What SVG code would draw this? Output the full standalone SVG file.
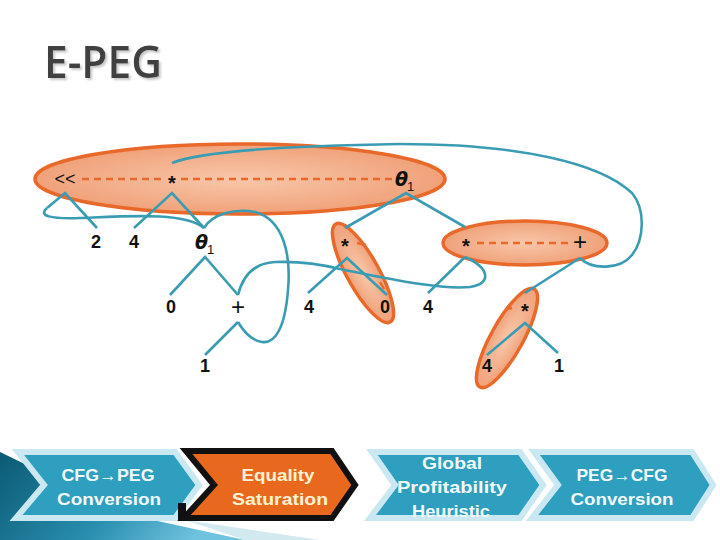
<svg xmlns="http://www.w3.org/2000/svg" width="720" height="540" viewBox="0 0 720 540">
<defs>
<radialGradient id="eg" cx="0.5" cy="0.5" r="0.5">
<stop offset="0" stop-color="#f8c7aa"/>
<stop offset="1" stop-color="#f0a27a"/>
</radialGradient>
<linearGradient id="bgd" x1="0" y1="0" x2="1" y2="0.3">
<stop offset="0" stop-color="#0b5a74"/>
<stop offset="0.6" stop-color="#2a8fb0"/>
<stop offset="1" stop-color="#6fc3df"/>
</linearGradient>
<filter id="tsh" x="-10%" y="-20%" width="130%" height="150%">
<feDropShadow dx="2" dy="2" stdDeviation="0.8" flood-color="#c8c8c8" flood-opacity="1"/>
</filter>
<clipPath id="c3"><polygon points="372,452 520,452 543,485 520,518 370,518 395,485"/></clipPath>
<style>
.eq{fill:url(#eg);stroke:#e8692a;stroke-width:3.5}
.dash{stroke:#e8692a;stroke-width:2.5;stroke-dasharray:7 5;fill:none}
.lbl{font-family:"Liberation Sans",Arial,sans-serif;font-weight:bold;font-size:18px;fill:#111;text-anchor:middle}
.ast{font-family:"Liberation Sans",Arial,sans-serif;font-weight:bold;font-size:20px;fill:#111;text-anchor:middle}
.pl{font-family:"Liberation Sans",Arial,sans-serif;font-size:24px;fill:#111;text-anchor:middle}
.th{font-family:"DejaVu Sans",sans-serif;font-style:italic;font-weight:bold;font-size:19px;fill:#111}
.sub{font-family:"Liberation Sans",Arial,sans-serif;font-size:13px;fill:#111}
.ed{fill:none;stroke:#3a9cb3;stroke-width:2.6;stroke-linejoin:miter}
.chv{fill:#2e9fbe;stroke:#c9e8f1;stroke-width:6}
.ct{font-family:"Liberation Sans",Arial,sans-serif;font-weight:bold;font-size:17px;fill:#f2fafc;text-anchor:middle}
</style>
</defs>
<rect width="720" height="540" fill="#ffffff"/>
<polygon points="0,452 130,515 245,540 0,540" fill="url(#bgd)"/>
<polygon points="185,520 320,540 245,540" fill="#d3e9f0"/>
<text x="44" y="78" font-family="'Open Sans','Liberation Sans',sans-serif" font-weight="600" font-size="45" fill="#404040" textLength="118" lengthAdjust="spacingAndGlyphs" filter="url(#tsh)">E-PEG</text>
<g id="eclass1"><ellipse class="eq" cx="240" cy="179" rx="205" ry="35"/><line class="dash" x1="82" y1="179" x2="165" y2="179"/><line class="dash" x1="181" y1="179" x2="392" y2="179"/></g>
<g id="eclass2"><ellipse class="eq" cx="363" cy="273" rx="56" ry="16" transform="rotate(61 363 273)"/><line x1="357" y1="243" x2="366" y2="245" stroke="#e8692a" stroke-width="2.5"/><line x1="380" y1="282" x2="384" y2="289" stroke="#e8692a" stroke-width="2.5"/></g>
<g id="eclass3"><ellipse class="eq" cx="525" cy="243" rx="82" ry="22"/><line class="dash" x1="477" y1="243" x2="570" y2="243"/></g>
<g id="eclass4"><ellipse class="eq" cx="507" cy="338" rx="56" ry="16" transform="rotate(-61 507 338)"/><line x1="507" y1="309" x2="512" y2="308" stroke="#e8692a" stroke-width="2.5"/></g>
<g id="connectors">
<polyline class="ed" points="97,228 65,193 47,208"/>
<path class="ed" d="M47,208 C38,216 50,219 80,218 C130,216 185,212 204,228"/>
<polyline class="ed" points="134,228 172,193 204,228"/>
<path class="ed" d="M172,163 C200,152 270,146 400,144 C520,144 600,163 632,193 C646,210 644,240 632,255 C620,270 592,270 580,258"/>
<polyline class="ed" points="345,228 406,193 465,227"/>
<polyline class="ed" points="170,295 205,257 238,295"/>
<path class="ed" d="M238,295 C243,275 255,263 275,262 C300,261 320,264 340,269 C390,279 440,290 470,287 C492,284 490,268 465,257"/>
<polyline class="ed" points="428,293 465,257"/>
<path class="ed" d="M204,228 C212,214 235,208 255,212 C285,220 291,258 288,290 C285,328 275,344 262,342 C250,340 243,330 238,322"/>
<polyline class="ed" points="205,355 238,322"/>
<polyline class="ed" points="308,293 347,258 387,295"/>
<polyline class="ed" points="580,258 525,293"/>
<polyline class="ed" points="487,355 525,323 558,353"/>
</g>
<g id="n-shl"><text x="65" y="185" font-family="'Liberation Sans',Arial,sans-serif" font-size="18" fill="#111" text-anchor="middle">&lt;&lt;</text></g>
<g id="n-mul1"><text class="ast" x="172" y="190">*</text></g>
<g id="n-theta1"><text class="th" x="395" y="186">θ</text><text class="sub" x="407" y="191">1</text></g>
<g id="n-2"><text class="lbl" x="96" y="248">2</text></g>
<g id="n-4a"><text class="lbl" x="134" y="248">4</text></g>
<g id="n-theta2"><text class="th" x="195" y="249">θ</text><text class="sub" x="207" y="254">1</text></g>
<g id="n-mul2"><text class="ast" x="345" y="253">*</text></g>
<g id="n-mul3"><text class="ast" x="466" y="253">*</text></g>
<g id="n-plus1"><text class="pl" x="580" y="250">+</text></g>
<g id="n-0a"><text class="lbl" x="171" y="313">0</text></g>
<g id="n-plus2"><text class="pl" x="238" y="315">+</text></g>
<g id="n-4b"><text class="lbl" x="309" y="313">4</text></g>
<g id="n-0b"><text class="lbl" x="385" y="313">0</text></g>
<g id="n-4c"><text class="lbl" x="428" y="313">4</text></g>
<g id="n-mul4"><text class="ast" x="525" y="318">*</text></g>
<g id="n-1a"><text class="lbl" x="205" y="372">1</text></g>
<g id="n-4d"><text class="lbl" x="487" y="372">4</text></g>
<g id="n-1b"><text class="lbl" x="559" y="372">1</text></g>
<g id="step1"><polygon class="chv" points="18,452 175,452 199,485 175,518 16,518 44,485"/>
<text class="ct" x="108" y="481" textLength="93" lengthAdjust="spacingAndGlyphs">CFG→PEG</text>
<text class="ct" x="109" y="505" textLength="104" lengthAdjust="spacingAndGlyphs">Conversion</text></g>
<g id="step2"><polygon points="178,503 186,503 186,520 178,520" fill="#111"/>
<polygon points="186,451 332,451 355,485 332,518 184,518 214,485" fill="#e8691e" stroke="#111" stroke-width="6"/>
<text class="ct" x="278" y="481" style="fill:#fff3d4" textLength="73" lengthAdjust="spacingAndGlyphs">Equality</text>
<text class="ct" x="280" y="505" style="fill:#fff3d4" textLength="96" lengthAdjust="spacingAndGlyphs">Saturation</text></g>
<g id="step3"><polygon class="chv" points="372,452 520,452 543,485 520,518 370,518 395,485"/>
<g clip-path="url(#c3)">
<text class="ct" x="452" y="469" textLength="60" lengthAdjust="spacingAndGlyphs">Global</text>
<text class="ct" x="452" y="493" textLength="110" lengthAdjust="spacingAndGlyphs">Profitability</text>
<text class="ct" x="451" y="517" textLength="78" lengthAdjust="spacingAndGlyphs">Heuristic</text></g></g>
<g id="step4"><polygon class="chv" points="534,452 692,452 713,485 692,518 532,518 558,485"/>
<text class="ct" x="622" y="481" textLength="91" lengthAdjust="spacingAndGlyphs">PEG→CFG</text>
<text class="ct" x="622" y="505" textLength="103" lengthAdjust="spacingAndGlyphs">Conversion</text></g>
</svg>
